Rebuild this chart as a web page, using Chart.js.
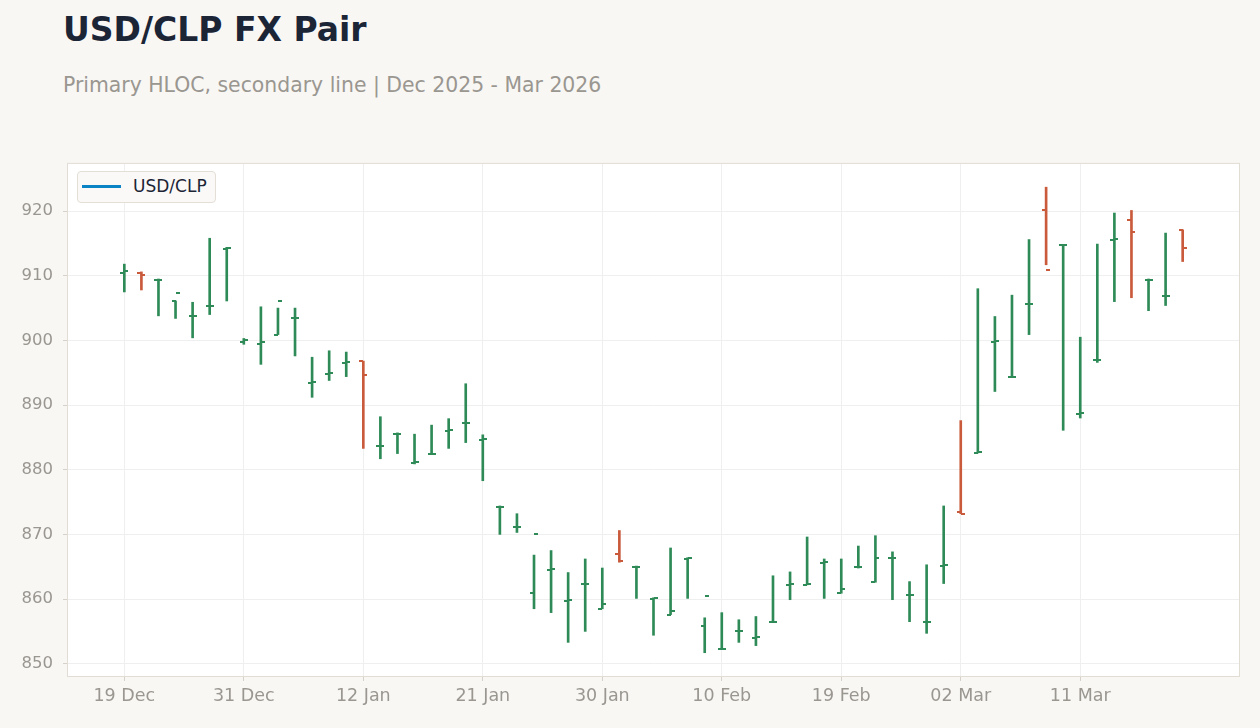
<!DOCTYPE html>
<html>
<head>
<meta charset="utf-8">
<script src="https://cdn.jsdelivr.net/npm/chart.js@4.4.1/dist/chart.umd.min.js"></script>
<style>
  html, body { margin: 0; padding: 0; background: #f8f7f4; width: 1260px; height: 728px; overflow: hidden; font-family: "DejaVu Sans", sans-serif; }
  .title { position: absolute; left: 63px; top: 10px; font-size: 33px; font-weight: bold; color: #1c2536; }
  .subtitle { position: absolute; left: 63px; top: 73px; font-size: 20.4px; color: #9a9690; }
  .chart-wrap { position: absolute; left: 0; top: 144px; width: 1260px; height: 584px; }
  .legend { position: absolute; left: 77px; top: 171px; width: 137px; height: 30px; border: 1px solid #e3ded6; border-radius: 4px; background: #faf9f7; }
  .legend .swatch { position: absolute; left: 4px; top: 13px; width: 39px; height: 3px; background: #0b84c6; }
  .legend .label { position: absolute; left: 55px; top: 4px; font-size: 17px; color: #1c2536; }
</style>
</head>
<body>
  <div class="title">USD/CLP FX Pair</div>
  <div class="subtitle">Primary HLOC, secondary line | Dec 2025 - Mar 2026</div>
  <div class="chart-wrap"><canvas id="fxChart"></canvas></div>
  <div class="legend"><span class="swatch"></span><span class="label">USD/CLP</span></div>
<script>
const dates = ['19 Dec', '22 Dec', '23 Dec', '24 Dec', '26 Dec', '29 Dec', '30 Dec',
  '31 Dec', '02 Jan', '05 Jan', '06 Jan', '07 Jan', '08 Jan', '09 Jan',
  '12 Jan', '13 Jan', '14 Jan', '15 Jan', '16 Jan', '19 Jan', '20 Jan',
  '21 Jan', '22 Jan', '23 Jan', '26 Jan', '27 Jan', '28 Jan', '29 Jan',
  '30 Jan', '02 Feb', '03 Feb', '04 Feb', '05 Feb', '06 Feb', '09 Feb',
  '10 Feb', '11 Feb', '12 Feb', '13 Feb', '16 Feb', '17 Feb', '18 Feb',
  '19 Feb', '20 Feb', '23 Feb', '24 Feb', '25 Feb', '26 Feb', '27 Feb',
  '02 Mar', '03 Mar', '04 Mar', '05 Mar', '06 Mar', '09 Mar', '10 Mar',
  '11 Mar', '12 Mar', '13 Mar', '16 Mar', '17 Mar', '18 Mar', '19 Mar'];

const opens = [910.5, 910.5, 909.3, 906.1, 903.7, 905.3, 914.2,
  899.8, 899.4, 900.9, 903.4, 893.4, 894.8, 896.5,
  896.8, 883.6, 885.5, 881.1, 882.4, 886.0, 887.2,
  884.6, 874.2, 871.1, 860.9, 864.5, 859.7, 862.3,
  858.5, 866.9, 864.9, 860.0, 857.6, 866.2, 855.9,
  852.2, 855.0, 854.0, 856.4, 862.2, 862.2, 865.6,
  861.0, 864.9, 862.7, 866.3, 860.6, 856.4, 865.1,
  873.5, 882.6, 899.8, 894.3, 905.6, 920.2, 914.7,
  888.6, 896.9, 915.6, 918.7, 909.3, 906.8, 917.1];

const highs = [911.8, 910.6, 909.5, 906.1, 905.9, 915.8, 914.4,
  900.3, 905.2, 905.0, 905.0, 897.4, 898.4, 898.2,
  896.8, 888.2, 885.7, 885.5, 886.9, 887.9, 893.3,
  885.4, 874.4, 873.2, 866.8, 867.5, 864.1, 866.2,
  864.8, 870.6, 865.1, 860.2, 867.9, 866.4, 857.1,
  857.9, 856.8, 857.3, 863.6, 864.2, 869.6, 866.2,
  866.2, 868.2, 869.8, 867.3, 862.7, 865.3, 874.4,
  887.6, 908.0, 903.7, 907.0, 915.6, 923.7, 914.8,
  900.5, 914.9, 919.7, 920.1, 909.5, 916.6, 917.1];

const lows = [907.5, 907.8, 903.8, 903.4, 900.4, 904.0, 906.1,
  899.4, 896.3, 900.9, 897.6, 891.2, 893.8, 894.4,
  883.3, 881.7, 882.5, 880.9, 882.4, 883.3, 884.2,
  878.3, 870.0, 870.3, 858.5, 857.9, 853.3, 855.0,
  858.5, 865.7, 860.1, 854.4, 857.6, 860.1, 851.7,
  852.2, 853.3, 852.8, 856.4, 859.9, 862.2, 860.1,
  860.9, 864.8, 862.6, 859.9, 856.5, 854.7, 862.4,
  873.2, 882.6, 892.1, 894.3, 900.9, 911.7, 886.1,
  888.0, 896.6, 906.0, 906.6, 904.6, 905.4, 912.2];

const closes = [910.7, 910.1, 909.4, 907.4, 903.8, 905.4, 914.3,
  900.0, 899.7, 906.1, 903.5, 893.5, 894.9, 896.6,
  894.7, 883.7, 885.6, 881.2, 882.5, 886.2, 887.3,
  884.7, 874.3, 871.2, 870.0, 864.6, 859.8, 862.4,
  859.2, 865.9, 865.0, 860.1, 858.2, 866.3, 860.4,
  852.3, 855.1, 854.1, 856.5, 862.4, 862.3, 865.7,
  861.6, 865.0, 866.4, 866.4, 860.7, 856.5, 865.2,
  873.2, 882.7, 899.9, 894.4, 905.7, 910.9, 914.8,
  888.7, 897.0, 915.7, 916.8, 909.4, 906.9, 914.3];

const yTicks = [850, 860, 870, 880, 890, 900, 910, 920];
const xTickIdx = [0, 7, 14, 21, 28, 35, 42, 49, 56];

const upColor = '#2e8b57';
const downColor = '#c95a3b';
const barColors = opens.map((o, i) => closes[i] >= o ? upColor : downColor);

const areaPlugin = {
  id: 'areaPlugin',
  beforeDraw(chart) {
    const { ctx, chartArea: a } = chart;
    ctx.save();
    ctx.fillStyle = '#ffffff';
    ctx.fillRect(a.left, a.top, a.right - a.left, a.bottom - a.top);
    ctx.restore();
  },
  beforeDatasetsDraw(chart) {
    const { ctx, chartArea: a } = chart;
    ctx.save();
    ctx.strokeStyle = '#e2ddd4';
    ctx.lineWidth = 1;
    ctx.strokeRect(a.left - 0.5, a.top - 0.5, a.right - a.left + 1, a.bottom - a.top + 1);
    ctx.restore();
  }
};

// open tick to the left, close tick to the right
const ohlcTicks = {
  id: 'ohlcTicks',
  afterDatasetsDraw(chart) {
    const { ctx, scales: { x, y } } = chart;
    ctx.save();
    opens.forEach((o, i) => {
      const px = Math.round(x.getPixelForValue(i));
      ctx.fillStyle = barColors[i];
      ctx.fillRect(px - 4, Math.round(y.getPixelForValue(o)) - 1, 4, 2);
      ctx.fillRect(px, Math.round(y.getPixelForValue(closes[i])) - 1, 4, 2);
    });
    ctx.restore();
  }
};

new Chart(document.getElementById('fxChart'), {
  type: 'bar',
  data: {
    datasets: [{
      label: 'USD/CLP',
      data: dates.map((d, i) => ({ x: i, y: [lows[i], highs[i]] })),
      backgroundColor: barColors,
      borderWidth: 0,
      barThickness: 2,
      grouped: false
    }]
  },
  options: {
    responsive: true,
    maintainAspectRatio: false,
    animation: false,
    layout: { padding: { top: 8, right: 21, bottom: 12, left: 0 } },
    plugins: {
      legend: { display: false },
      tooltip: { enabled: false }
    },
    scales: {
      x: {
        type: 'linear',
        min: -3.3,
        max: 65.3,
        offset: false,
        afterBuildTicks: (scale) => { scale.ticks = xTickIdx.map((v) => ({ value: v })); },
        afterFit: (scale) => { scale.height = 40; },
        ticks: {
          color: '#9a9690',
          font: { family: 'DejaVu Sans', size: 17.5 },
          padding: 5,
          maxRotation: 0,
          autoSkip: false,
          callback: (v) => dates[v]
        },
        grid: { color: '#efefef', offset: false, tickLength: 5, tickColor: '#d6d1c9' },
        border: { display: false }
      },
      y: {
        min: 848.1,
        max: 927.3,
        afterBuildTicks: (scale) => { scale.ticks = yTicks.map((v) => ({ value: v })); },
        afterFit: (scale) => { scale.width = 68; },
        ticks: {
          color: '#9a9690',
          font: { family: 'DejaVu Sans', size: 16.5 },
          padding: 10,
          callback: (v) => v
        },
        grid: { color: '#efefef', tickLength: 5, tickColor: '#d6d1c9' },
        border: { display: false }
      }
    }
  },
  plugins: [areaPlugin, ohlcTicks]
});
</script>
</body>
</html>
